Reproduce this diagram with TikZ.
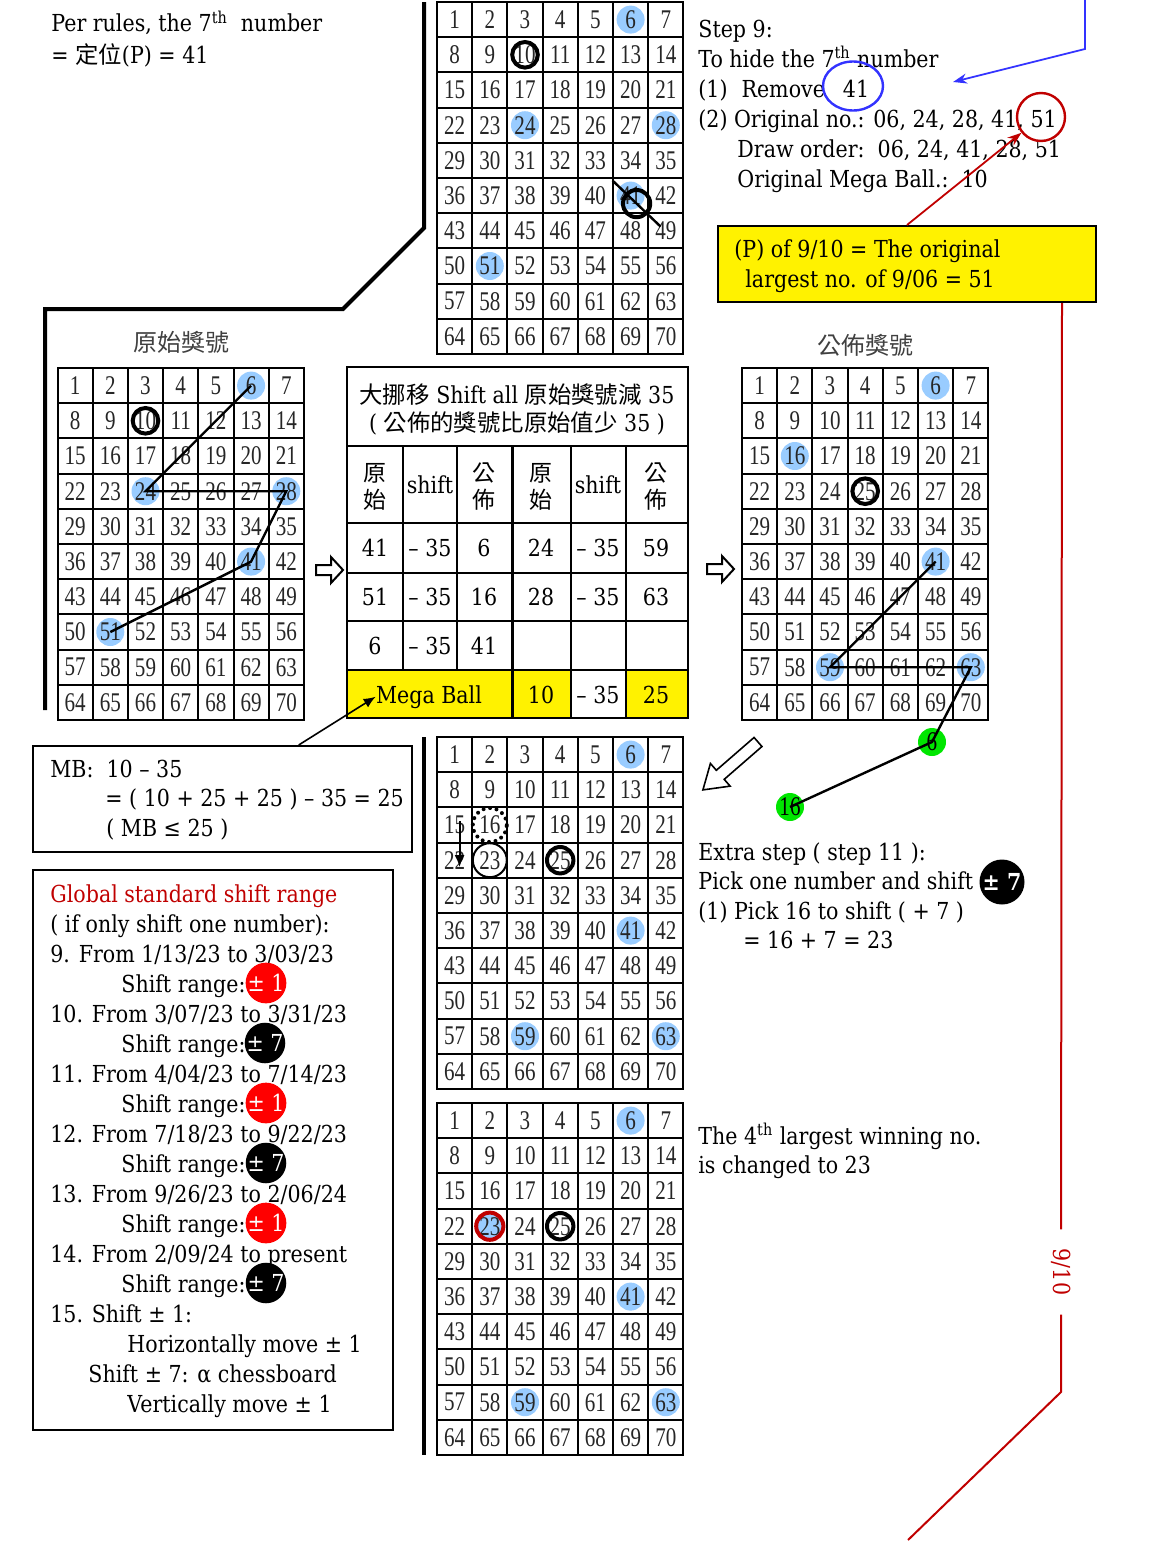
\documentclass[tikz,border=0pt]{standalone}
\usepackage{fontspec}
\setmainfont{DejaVu Serif}[FakeStretch=0.88]
\newfontfamily\gridfont{Liberation Serif}[FakeStretch=0.78]
\newfontfamily\cjk{Noto Sans CJK TC}
\usetikzlibrary{calc,backgrounds,arrows.meta,shapes.geometric}

\definecolor{ballblue}{RGB}{153,204,255}
\definecolor{darkred}{RGB}{192,0,0}
\definecolor{penblue}{RGB}{51,51,255}
\definecolor{ballgreen}{RGB}{0,230,0}

\newcommand\bodyfont{\fontsize{11.7pt}{15pt}\selectfont}
\newcommand\numfont{\gridfont\fontsize{13.5pt}{15pt}\selectfont}
\newcommand\cjkhead{\cjk\fontsize{11.5pt}{14pt}\selectfont}
\newcommand\cjklabel{\cjk\fontsize{12pt}{14pt}\selectfont}

\tikzset{
  cell/.style={draw, line width=1pt, minimum width=17.6pt, minimum height=17.6pt, inner sep=0pt, font=\numfont, text=black!85},
  txt/.style={anchor=base west, inner sep=0pt, font=\bodyfont},
  tbl/.style={anchor=base, inner sep=0pt, font=\bodyfont},
  ring/.style={draw, line width=2pt},
  trail/.style={line width=1.2pt},
  wall/.style={line width=2pt},
  shiftdot/.style={circle, fill=#1, text=white, minimum size=20pt, inner sep=0pt, font=\bodyfont},
  greenball/.style={circle, fill=ballgreen, minimum size=14pt, inner sep=0pt, font=\numfont},
  harrow/.pic={\draw[line width=1pt, fill=white] (0,-5) -- (15,-5) -- (15,-13) -- (27,0) -- (15,13) -- (15,5) -- (0,5) -- cycle;},
  bigharrow/.pic={\draw[line width=0.8pt, fill=white] (0,-6) -- (50,-6) -- (50,-15) -- (73,0) -- (50,15) -- (50,6) -- (0,6) -- cycle;},
}

% 7 x 10 board of numbers, named #1-1 ... #1-70
\newcommand\numgrid[3]{%
  \foreach \r in {0,...,9}{
    \foreach \c in {1,...,7}{
      \pgfmathtruncatemacro\n{7*\r+\c}
      \node[cell] (#1-\n) at ({#2+35.2*(\c-0.5)},{#3+35.2*(\r+0.5)}) {\n};
    }
  }%
}

\begin{document}
\begin{tikzpicture}[x=0.5pt,y=-0.5pt]
\useasboundingbox (0,0) rectangle (1154,1542);

\draw[wall] (424,2) -- (424,228) -- (343,309) -- (45,309) -- (45,710);
\draw[wall] (424,737) -- (424,1455);

\numgrid{g1}{437}{2}
\numgrid{g2}{57.5}{368}
\numgrid{g3}{742}{368}
\numgrid{g4}{437}{737}
\numgrid{g5}{437}{1103}

\begin{scope}[on background layer]
\foreach \n in {6,24,28,41,51} {\fill[ballblue] (g1-\n) circle (7pt); \fill[ballblue] (g2-\n) circle (7pt);}
\foreach \n in {6,16,41,59,63} \fill[ballblue] (g3-\n) circle (7pt);
\foreach \n in {6,41,59,63} \fill[ballblue] (g4-\n) circle (7pt);
\foreach \n in {6,23,41,59,63} \fill[ballblue] (g5-\n) circle (7pt);
\end{scope}

% top board
\draw[ring] (g1-10) circle (6.4pt);
\draw[ring] ($(g1-41)+(6,8)$) circle (6.8pt);
\draw[line width=1.2pt] ($(g1-41)+(-18,-15)$) -- ($(g1-41)+(30,31)$);

% original numbers
\node[font=\cjklabel, text=black!75] (orglabel) at (181,342) {原始獎號};
\draw[ring] (g2-10) circle (6.4pt);
\draw[trail] (g2-6.center) -- (g2-24.center) -- (g2-28.center) -- (g2-41.center) -- (g2-51.center);

% published numbers
\node[font=\cjklabel, text=black!75] (publabel) at (865,345) {公佈獎號};
\draw[ring] (g3-25) circle (6.4pt);
\node[greenball] (gr6) at (932,742) {6};
\node[greenball] (gr16) at (790,807) {16};
\draw[trail] (g3-41.center) -- (g3-59.center) -- (g3-63.center) -- (gr6.center) -- (gr16.center);

% shifted boards
\draw[line width=2pt, line cap=round, dash pattern=on 0pt off 3.3pt] (g4-16) circle (8.5pt);
\draw[line width=1pt] (g4-23) circle (8.5pt);
\draw[ring] (g4-25) circle (6.6pt);
\draw[line width=1pt, -{Latex[length=6pt,width=5pt]}] ($(g4-15)+(5,-4)$) -- ($(g4-22)+(5,7)$);
\draw[ring, darkred] (g5-23) circle (6.8pt);
\draw[ring] (g5-25) circle (6.6pt);

\pic at (316,570) {harrow};
\pic at (707,569) {harrow};
\pic[rotate=221] at (758,742) {bigharrow};

% texts top
\node[txt] (rule1) at (51,32) {Per rules, the 7\textsuperscript{th}\ \ number};
\node[txt] (rule2) at (51,63) {= {\cjk 定位}(P) = 41};

\node[txt] (s9a) at (698,37) {Step 9:};
\node[txt] (s9b) at (698,67) {To hide the 7\textsuperscript{th}\ number};
\node[txt] (s9c) at (698,97) {(1)\hspace{7pt}Remove\hspace{9pt}41};
\node[txt] (s9d) at (698,127) {(2) Original no.: 06, 24, 28, 41, 51};
\node[txt] (s9e) at (737,157) {Draw order:\ \ 06, 24, 41, 28, 51};
\node[txt] (s9f) at (737,187) {Original Mega Ball.:\ \ 10};

\node[ellipse, draw=penblue, line width=1.2pt, minimum width=30pt, minimum height=24.5pt] (c41) at (853,86) {};
\coordinate (btop) at (1085,0);
\coordinate (bbend) at (1085,49);
\coordinate (btip) at (953,82);
\draw[penblue, line width=0.9pt, -{Stealth[length=7pt,width=5pt]}] (btop) -- (bbend) -- (btip);

\node[circle, draw=darkred, line width=1.2pt, minimum size=24pt] (c51) at (1041,117) {};
\node[draw, line width=1pt, fill=yellow, minimum width=189pt, minimum height=38pt, inner sep=0pt] (ybox) at (907,264) {};
\node[txt] (yb1) at (734,257) {(P) of 9/10 = The original};
\node[txt] (yb2) at (745,287) {largest no. of 9/06 = 51};
\draw[darkred, line width=0.9pt, -{Stealth[length=7pt,width=5pt]}] (ybox.north) -- (c51);

\coordinate (rtop) at ($(ybox.south east)+(-35,0)$);
\coordinate (rbend) at (1061,1392);
\coordinate (rend) at (908,1540);
\node[rotate=-90, text=darkred, font=\bodyfont, inner xsep=9.5pt, inner ysep=2pt] (d910) at (1061,1272) {9/10};
\draw[darkred, line width=1pt] (rtop) -- (d910);
\draw[darkred, line width=1pt] (d910) -- (rbend) -- (rend);

% table
\fill[yellow] (347,670) rectangle (571,718);
\fill[yellow] (626,670) rectangle (688,718);
\draw[line width=0.9pt] (347,446) -- (688,446);
\draw[line width=0.7pt] (347,523) -- (688,523) (347,573) -- (688,573) (347,621) -- (688,621) (347,670) -- (688,670);
\draw[line width=0.7pt] (403,446) -- (403,670) (457,446) -- (457,670) (571,446) -- (571,718) (626,446) -- (626,718);
\draw[line width=1.5pt] (512,446) -- (512,718);
\draw[line width=1.2pt] (347,367) rectangle (688,718);

\node[tbl] (hd1) at (517,403) {{\cjk 大挪移} Shift all {\cjk 原始獎號減} 35};
\node[tbl] (hd2) at (517,431) {( {\cjk 公佈的獎號比原始值少} 35 )};
\foreach \x/\k in {375/a,541/b} {
  \node[tbl, font=\cjkhead] (yuan\k) at (\x,481) {原};
  \node[tbl, font=\cjkhead] (shi\k) at (\x,508) {始};
}
\foreach \x/\k in {484/a,656/b} {
  \node[tbl, font=\cjkhead] (gong\k) at (\x,481) {公};
  \node[tbl, font=\cjkhead] (bu\k) at (\x,508) {佈};
}
\foreach \x/\k in {430/a,598/b} \node[tbl] (shift\k) at (\x,493) {shift};
\foreach \y/\a/\c/\d/\f [count=\i] in {556/41/6/24/59, 605/51/16/28/63} {
  \node[tbl] (ta\i) at (375,\y) {\a};
  \node[tbl] (tb\i) at (430,\y) {– 35};
  \node[tbl] (tc\i) at (484,\y) {\c};
  \node[tbl] (td\i) at (541,\y) {\d};
  \node[tbl] (te\i) at (598,\y) {– 35};
  \node[tbl] (tf\i) at (656,\y) {\f};
}
\node[tbl] (ta3) at (375,654) {6};
\node[tbl] (tb3) at (430,654) {– 35};
\node[tbl] (tc3) at (484,654) {41};
\node[tbl] (mbtxt) at (429,703) {Mega Ball};
\node[tbl] (mb10) at (541,703) {10};
\node[tbl] (mbs) at (598,703) {– 35};
\node[tbl] (mb25) at (656,703) {25};

% MB box
\node[draw, line width=1pt, minimum width=189.5pt, minimum height=53pt, inner sep=0pt] (mbbox) at (222.5,799) {};
\node[txt] (mb1) at (50,777) {MB:\ \ 10 – 35};
\node[txt] (mb2) at (105,806) {= ( 10 + 25 + 25 ) – 35 = 25};
\node[txt] (mb3) at (106,836) {( MB ≤ 25 )};
\draw[line width=0.8pt, -{Latex[length=6pt,width=5pt]}] ($(mbbox.north west)!0.7!(mbbox.north east)$) -- (mbtxt.west);

% shift range box
\node[draw, line width=1pt, minimum width=180pt, minimum height=280pt, inner sep=0pt] (rangebox) at (213,1150) {};
\node[txt, text=darkred] (gs0) at (50,902) {Global standard shift range};
\node[txt] (gs1) at (50,932) {( if only shift one number):};
\node[txt] (gs2) at (50,962) {9. From 1/13/23 to 3/03/23};
\node[txt] (gs3) at (121,992) {Shift range:};
\node[txt] (gs4) at (50,1022) {10. From 3/07/23 to 3/31/23};
\node[txt] (gs5) at (121,1052) {Shift range:};
\node[txt] (gs6) at (50,1082) {11. From 4/04/23 to 7/14/23};
\node[txt] (gs7) at (121,1112) {Shift range:};
\node[txt] (gs8) at (50,1142) {12. From 7/18/23 to 9/22/23};
\node[txt] (gs9) at (121,1172) {Shift range:};
\node[txt] (gs10) at (50,1202) {13. From 9/26/23 to 2/06/24};
\node[txt] (gs11) at (121,1232) {Shift range:};
\node[txt] (gs12) at (50,1262) {14. From 2/09/24 to present};
\node[txt] (gs13) at (121,1292) {Shift range:};
\node[txt] (gs14) at (50,1322) {15. Shift ± 1:};
\node[txt] (gs15) at (127,1352) {Horizontally move ± 1};
\node[txt] (gs16) at (88,1382) {Shift ± 7: α chessboard};
\node[txt] (gs17) at (127,1412) {Vertically move ± 1};
\node[shiftdot=red] (sr9) at (266,983) {± 1};
\node[shiftdot=black] (sr10) at (265,1043) {± 7};
\node[shiftdot=red] (sr11) at (266,1103) {± 1};
\node[shiftdot=black] (sr12) at (266,1163) {± 7};
\node[shiftdot=red] (sr13) at (266,1223) {± 1};
\node[shiftdot=black] (sr14) at (266,1283) {± 7};

% extra step
\node[txt] (ex1) at (698,860) {Extra step ( step 11 ):};
\node[txt] (ex2) at (698,889) {Pick one number and shift};
\node[txt] (ex3) at (698,919) {(1) Pick 16 to shift ( + 7 )};
\node[txt] (ex4) at (743,948) {= 16 + 7 = 23};
\node[shiftdot=black, minimum size=22.5pt, font=\bodyfont\bfseries] (ex7) at (1002,882) {± 7};

\node[txt] (ch1) at (698,1144) {The 4\textsuperscript{th} largest winning no.};
\node[txt] (ch2) at (698,1173) {is changed to 23};
\end{tikzpicture}
\end{document}
